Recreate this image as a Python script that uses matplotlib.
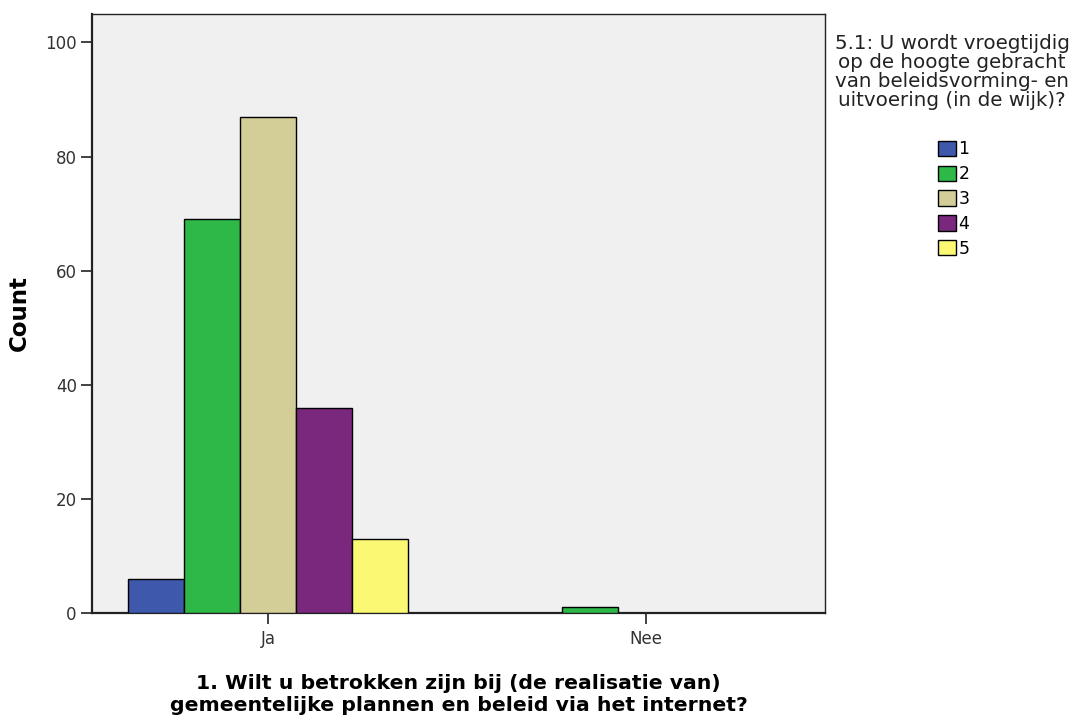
import numpy as np
import matplotlib.pyplot as plt
from matplotlib.patches import Patch

plt.rcParams['font.family'] = ['DejaVu Sans']

# data
categories = ['Ja', 'Nee']
answers = ['1', '2', '3', '4', '5']
counts = {
    '1': [6, 0],
    '2': [69, 1],
    '3': [87, 0],
    '4': [36, 0],
    '5': [13, 0],
}
colors = ['#3e58ac', '#2eb848', '#d3ce97', '#79287d', '#fbf873']
legend_title = '5.1: U wordt vroegtijdig\nop de hoogte gebracht\nvan beleidsvorming- en\nuitvoering (in de wijk)?'
x_title = '1. Wilt u betrokken zijn bij (de realisatie van)\ngemeentelijke plannen en beleid via het internet?'

fig = plt.figure(figsize=(10.83, 7.24), dpi=100)
ax = fig.add_axes([0.085, 0.1533, 0.677, 0.8274])
ax.set_facecolor('#f0f0f0')

x = np.arange(len(categories))
width = 0.148
for i, a in enumerate(answers):
    offs = (i - 2) * width
    vals = np.array(counts[a])
    ax.bar(x[vals > 0] + offs, vals[vals > 0], width, color=colors[i],
           edgecolor='black', linewidth=1.0, zorder=3)

ax.set_xlim(-0.466, 1.474)
ax.set_ylim(0, 105)
ax.set_yticks([0, 20, 40, 60, 80, 100])
ax.set_xticks(x)
ax.set_xticklabels(categories)
ax.tick_params(axis='both', direction='out', length=8, width=1.2,
               labelsize=12, labelcolor='#333333', color='#222222', pad=3)
ax.tick_params(axis='x', pad=4)
for s in ax.spines.values():
    s.set_linewidth(1.0)
    s.set_color('#222222')
ax.spines['left'].set_linewidth(1.6)
ax.spines['bottom'].set_linewidth(1.6)

ax.set_ylabel('Count', fontsize=16.5, fontweight='bold', labelpad=10)
ax.set_xlabel(x_title, fontsize=14.7, fontweight='bold', labelpad=19, linespacing=1.22)

fig.text(0.879, 0.953, legend_title, ha='center', va='top', fontsize=14.3,
         color='#222222', linespacing=0.99, multialignment='center')

handles = [Patch(facecolor=c, edgecolor='black', linewidth=1.0) for c in colors]
leg = fig.legend(handles, answers, loc='upper center', bbox_to_anchor=(0.8805, 0.818),
                 frameon=False, fontsize=12.5,
                 handlelength=1.05, handleheight=1.0, handletextpad=0.15,
                 labelspacing=0.39, borderpad=0.0)

fig.savefig('out.png', dpi=100)
